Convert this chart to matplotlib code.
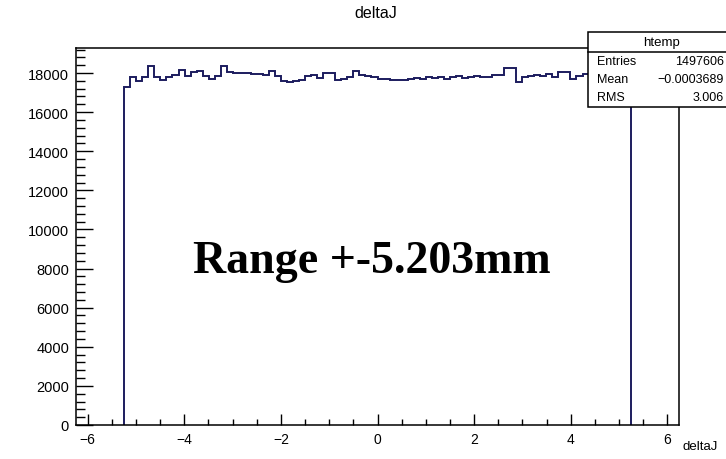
import numpy as np
import matplotlib
matplotlib.use("Agg")
import matplotlib.pyplot as plt
from matplotlib.ticker import MultipleLocator

# ---- data ----
hist_range = (-6.24, 6.24)
n_bins = 100
first_filled_bin = 8
bin_values = [
    17270, 17780, 17577, 17780, 18344, 17780, 17650, 17780, 17900, 18170,
    17860, 18030, 18110, 17860, 17700, 17860, 18340, 18030, 17990, 17990,
    17990, 17950, 17950, 17920, 18110, 17860, 17580, 17560, 17580, 17640,
    17860, 17900, 17760, 18000, 18000, 17620, 17700, 17800, 18100, 17900,
    17850, 17780, 17700, 17720, 17660, 17640, 17620, 17700, 17760, 17700,
    17780, 17740, 17800, 17720, 17780, 17830, 17760, 17800, 17850, 17780,
    17820, 17880, 17880, 18250, 18250, 17560, 17800, 17840, 17900, 17830,
    17950, 17800, 18050, 18050, 17700, 17850, 17950, 17900, 17780, 17850,
    17920, 17800, 17880, 17830,
]
title = "deltaJ"
x_label = "deltaJ"
x_ticks = [-6, -4, -2, 0, 2, 4, 6]
y_ticks = [0, 2000, 4000, 6000, 8000, 10000, 12000, 14000, 16000, 18000]
stats_name = "htemp"
stats_rows = [("Entries", "1497606"), ("Mean", "\u22120.0003689"), ("RMS", "3.006")]
annotation = "Range +-5.203mm"

# ---- figure ----
W, H = 726, 460
fig = plt.figure(figsize=(W / 100, H / 100), dpi=100)
fig.patch.set_facecolor("white")
ax = fig.add_axes([76 / W, 1 - 426 / H, (679 - 76) / W, (426 - 49) / H])

all_edges = np.linspace(hist_range[0], hist_range[1], n_bins + 1)
edges = all_edges[first_filled_bin:first_filled_bin + len(bin_values) + 1]
ax.stairs(bin_values, edges, baseline=0, color="#1c1c5e", linewidth=1.4)

ax.set_xlim(*hist_range)
ax.set_ylim(0, 19280)

font = "Liberation Sans"
ax.set_xticks(x_ticks)
ax.set_yticks(y_ticks)
ax.xaxis.set_minor_locator(MultipleLocator(0.5))
ax.yaxis.set_minor_locator(MultipleLocator(400))
ax.tick_params(axis="x", which="major", direction="in", length=8, width=1, pad=5, labelsize=10)
ax.tick_params(axis="x", which="minor", direction="in", length=4, width=1)
ax.tick_params(axis="y", which="major", direction="in", length=12.5, width=1, pad=5, labelsize=10.5)
ax.tick_params(axis="y", which="minor", direction="in", length=6.5, width=1)
ax.tick_params(top=False, right=False, which="both")
for lbl in ax.get_xticklabels() + ax.get_yticklabels():
    lbl.set_fontfamily(font)
for s in ax.spines.values():
    s.set_linewidth(1.1)
    s.set_color("black")

fig.text(376 / W, 1 - 13 / H, title, ha="center", va="center", fontsize=11.5, family=font)
fig.text(718 / W, 1 - 447 / H, x_label, ha="right", va="center", fontsize=9.5, family=font)

fig.text(372 / W, 1 - 262 / H, annotation, ha="center", va="center", fontsize=33,
         family="Liberation Serif", fontweight="bold")

# stats box
bx0, by0, bx1, by1 = 588, 33, 740, 108
box = plt.Rectangle((bx0 / W, 1 - by1 / H), (bx1 - bx0) / W, (by1 - by0) / H,
                    transform=fig.transFigure, facecolor="white", edgecolor="black",
                    linewidth=1.1, zorder=5)
fig.add_artist(box)
fig.add_artist(plt.Line2D([bx0 / W, bx1 / W], [1 - 53 / H, 1 - 53 / H],
                          transform=fig.transFigure, color="black", linewidth=1.1, zorder=6))
fig.text(662 / W, 1 - 43 / H, stats_name, ha="center", va="center", fontsize=9.5,
         family=font, zorder=7)
for i, (k, v) in enumerate(stats_rows):
    yy = 1 - (62 + 18 * i) / H
    fig.text(597 / W, yy, k, ha="left", va="center", fontsize=9, family=font, zorder=7)
    fig.text(724 / W, yy, v, ha="right", va="center", fontsize=9, family=font, zorder=7)

fig.savefig("out.png", dpi=100, facecolor="white")
